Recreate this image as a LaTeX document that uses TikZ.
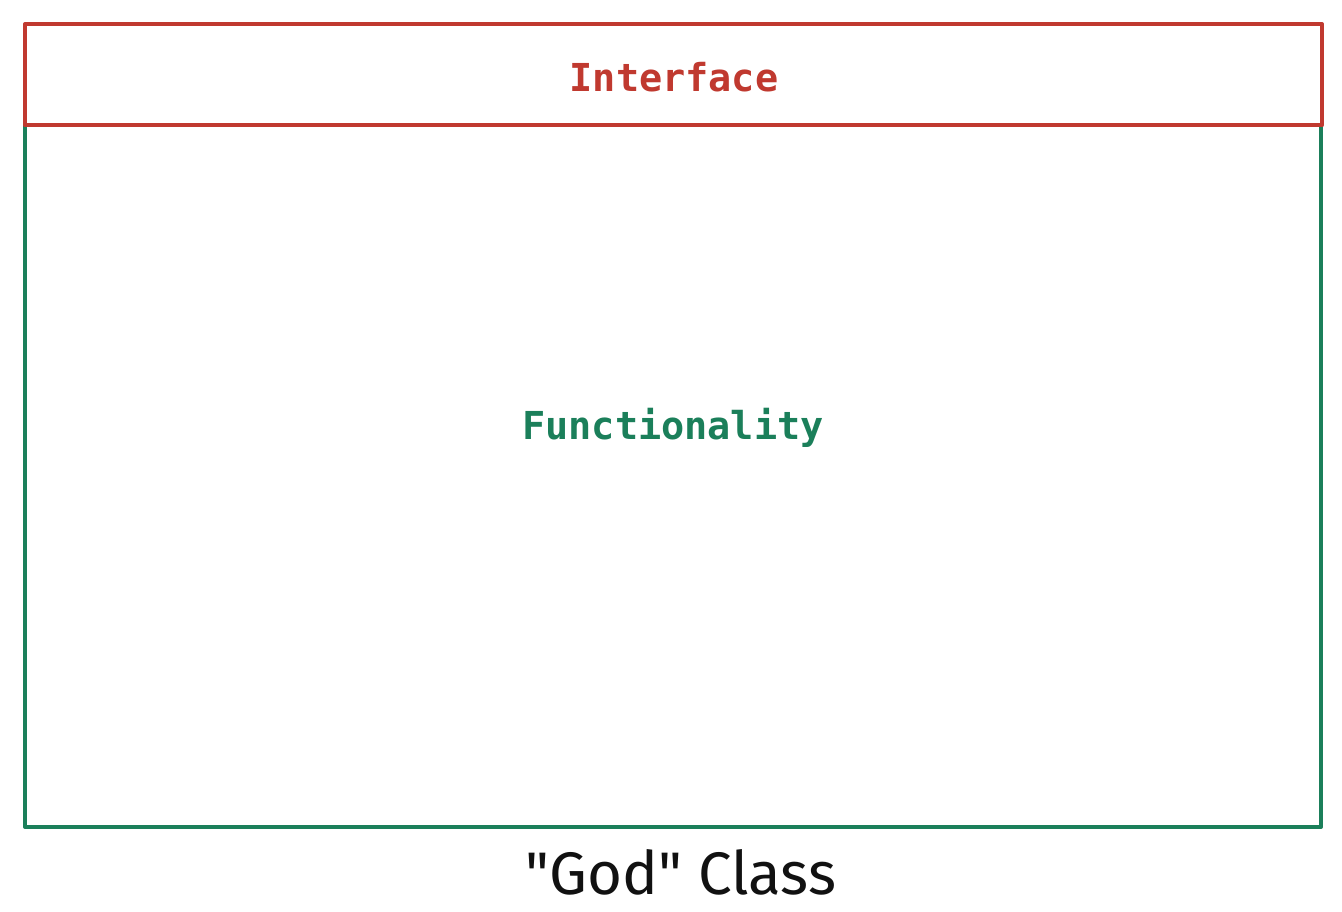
\documentclass[tikz,border=0pt]{standalone}
\usepackage{fontspec}
\newfontfamily\codefont{DejaVu Sans Mono}
\newfontfamily\handfont{Fira Sans}
\definecolor{ired}{HTML}{C0392F}
\definecolor{fgreen}{HTML}{1B7F5A}
\definecolor{inkblack}{HTML}{111111}
\begin{document}
\begin{tikzpicture}[x=1pt,y=-1pt,
  box/.style={draw, line width=4pt, line join=round},
  codelabel/.style={font=\codefont\bfseries\fontsize{38.5}{40}\selectfont, inner sep=0pt},
  handlabel/.style={font=\handfont\fontsize{60}{64}\selectfont, inner sep=0pt, text=inkblack}]
\useasboundingbox (0,0) rectangle (1342,912);
\fill[white] (0,0) rectangle (1342,912);
\draw[box, fgreen] (25,125.5) rectangle (1321,827);
\draw[box, ired] (25,24) rectangle (1322,125.5);
\node[codelabel, text=ired] (iface) at (674,77) {Interface};
\node[codelabel, text=fgreen] (func) at (673,428) {Functionality};
\node[handlabel] (god) at (681,872) {"God" Class};
\end{tikzpicture}
\end{document}
